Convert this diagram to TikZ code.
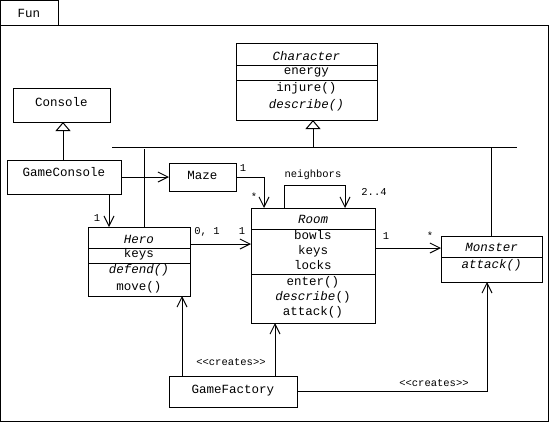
\documentclass[tikz,border=0pt]{standalone}
\usepackage{fontspec}
\setmonofont{Liberation Mono}
\usetikzlibrary{arrows.meta}
\begin{document}
\begin{tikzpicture}[x=1pt,y=-1pt,line width=1pt,
  box/.style={draw,anchor=north west,inner sep=0pt,outer sep=0pt},
  txt/.style={font=\ttfamily\fontsize{12.5}{14}\selectfont,inner sep=0pt,anchor=base},
  lbl/.style={font=\ttfamily\fontsize{10.5}{12}\selectfont,inner sep=0pt,anchor=base},
  star/.style={font=\ttfamily\fontsize{10.5}{12}\selectfont,inner sep=0pt},
  openarr/.style={-{Straight Barb[length=10pt,width=10pt]}},
  gen/.style={-{Triangle[open,length=9pt,width=15pt]}}]
\useasboundingbox (0,0) rectangle (549,423);
% package frame
\node[box,minimum width=58pt,minimum height=25pt] (tab) at (0.5,0.5) {};
\node[txt] (tfun) at (29,17) {Fun};
\node[box,minimum width=547.5pt,minimum height=396pt] (frame) at (0.5,25) {};

% classes
\node[box,minimum width=97pt,minimum height=34pt] (console) at (13,88) {};
\node[txt] (tconsole) at (61.5,106) {Console};

\node[box,minimum width=141pt,minimum height=77pt] (character) at (236,43) {};
\draw (character.west |- 0,65) -- (character.east |- 0,65);
\draw (character.west |- 0,80) -- (character.east |- 0,80);
\node[txt] (tchar) at (306.5,60) {\itshape Character};
\node[txt] (tenergy) at (306.5,74.5) {energy};
\node[txt] (tinjure) at (306.5,91) {injure()};
\node[txt] (tdescr) at (306.5,108) {\itshape describe()};

\node[box,minimum width=114pt,minimum height=34pt] (gc) at (7,160) {};
\node[txt] (tgc) at (64,176) {GameConsole};

\node[box,minimum width=67pt,minimum height=28pt] (maze) at (169,163) {};
\node[txt] (tmaze) at (202.5,179) {Maze};

\node[box,minimum width=102pt,minimum height=69pt] (hero) at (88,227) {};
\draw (hero.west |- 0,248) -- (hero.east |- 0,248);
\draw (hero.west |- 0,263) -- (hero.east |- 0,263);
\node[txt] (thero) at (139,243) {\itshape Hero};
\node[txt] (thkeys) at (139,257.5) {keys};
\node[txt] (thdef) at (139,273) {\itshape defend()};
\node[txt] (thmove) at (139,290) {move()};

\node[box,minimum width=124pt,minimum height=115pt] (room) at (251,208) {};
\draw (room.west |- 0,229) -- (room.east |- 0,229);
\draw (room.west |- 0,274) -- (room.east |- 0,274);
\node[txt] (troom) at (313,223) {\itshape Room};
\node[txt] (tbowls) at (313,239) {bowls};
\node[txt] (trkeys) at (313,254) {keys};
\node[txt] (tlocks) at (313,269) {locks};
\node[txt] (tenter) at (313,285) {enter()};
\node[txt] (trdesc) at (313,300) {{\itshape describe}()};
\node[txt] (trattack) at (313,315) {attack()};

\node[box,minimum width=101pt,minimum height=46pt] (monster) at (441,236) {};
\draw (monster.west |- 0,257) -- (monster.east |- 0,257);
\node[txt] (tmonster) at (491.5,251) {\itshape Monster};
\node[txt] (tmattack) at (491.5,268) {\itshape attack()};

\node[box,minimum width=128pt,minimum height=31pt] (gf) at (169,376) {};
\node[txt] (tgf) at (233,393) {GameFactory};

% inheritance
\coordinate (barL) at (112,147);
\coordinate (barR) at (517,147);
\draw (barL) -- (barR);
\coordinate (charjoin) at (313,147);
\draw[gen] (charjoin) -- (charjoin |- character.south);
\coordinate (herojoin) at (144,149);
\draw (herojoin) -- (herojoin |- hero.north);
\coordinate (monjoin) at (491,147);
\draw (monjoin) -- (monjoin |- monster.north);
\coordinate (gcjoin) at (63,160);
\draw[gen] (gcjoin) -- (gcjoin |- console.south);

% associations
\draw[openarr] (gc.east) -- (maze.west);
\coordinate (gchero) at (109,194);
\draw[openarr] (gchero) -- (gchero |- hero.north);
\node[lbl] (m1) at (97,221) {1};

\coordinate (mazeroom) at (264,208);
\draw[openarr] (maze.east) -| (mazeroom);
\node[lbl] (m2) at (243,171) {1};
\node[star] (m3) at (254,197) {*};

\coordinate (loopA) at (284,208);
\coordinate (loopB) at (345,208);
\draw[openarr] (loopA) -- ++(0,-23) -| (loopB);
\node[lbl] (tneigh) at (313,177) {neighbors};
\node[lbl] (m4) at (374,195) {2..4};

\coordinate (hr) at (190,244);
\draw[openarr] (hr) -- (hr -| room.west);
\node[lbl] (m5) at (207,234) {0, 1};
\node[lbl] (m6) at (242,234) {1};

\coordinate (rm) at (375,248);
\draw[openarr] (rm) -- (rm -| monster.west);
\node[lbl] (m7) at (386,239) {1};
\node[star] (m8) at (430,236) {*};

\coordinate (gfh) at (182,376);
\draw[openarr] (gfh) -- (gfh |- hero.south);
\coordinate (gfr) at (275,376);
\draw[openarr] (gfr) -- (gfr |- room.south);
\node[lbl] (c1) at (231,365) {<<creates>>};
\coordinate (gfm) at (487,282);
\draw[openarr] (gf.east) -| (gfm);
\node[lbl] (c2) at (434,386) {<<creates>>};
\end{tikzpicture}
\end{document}
